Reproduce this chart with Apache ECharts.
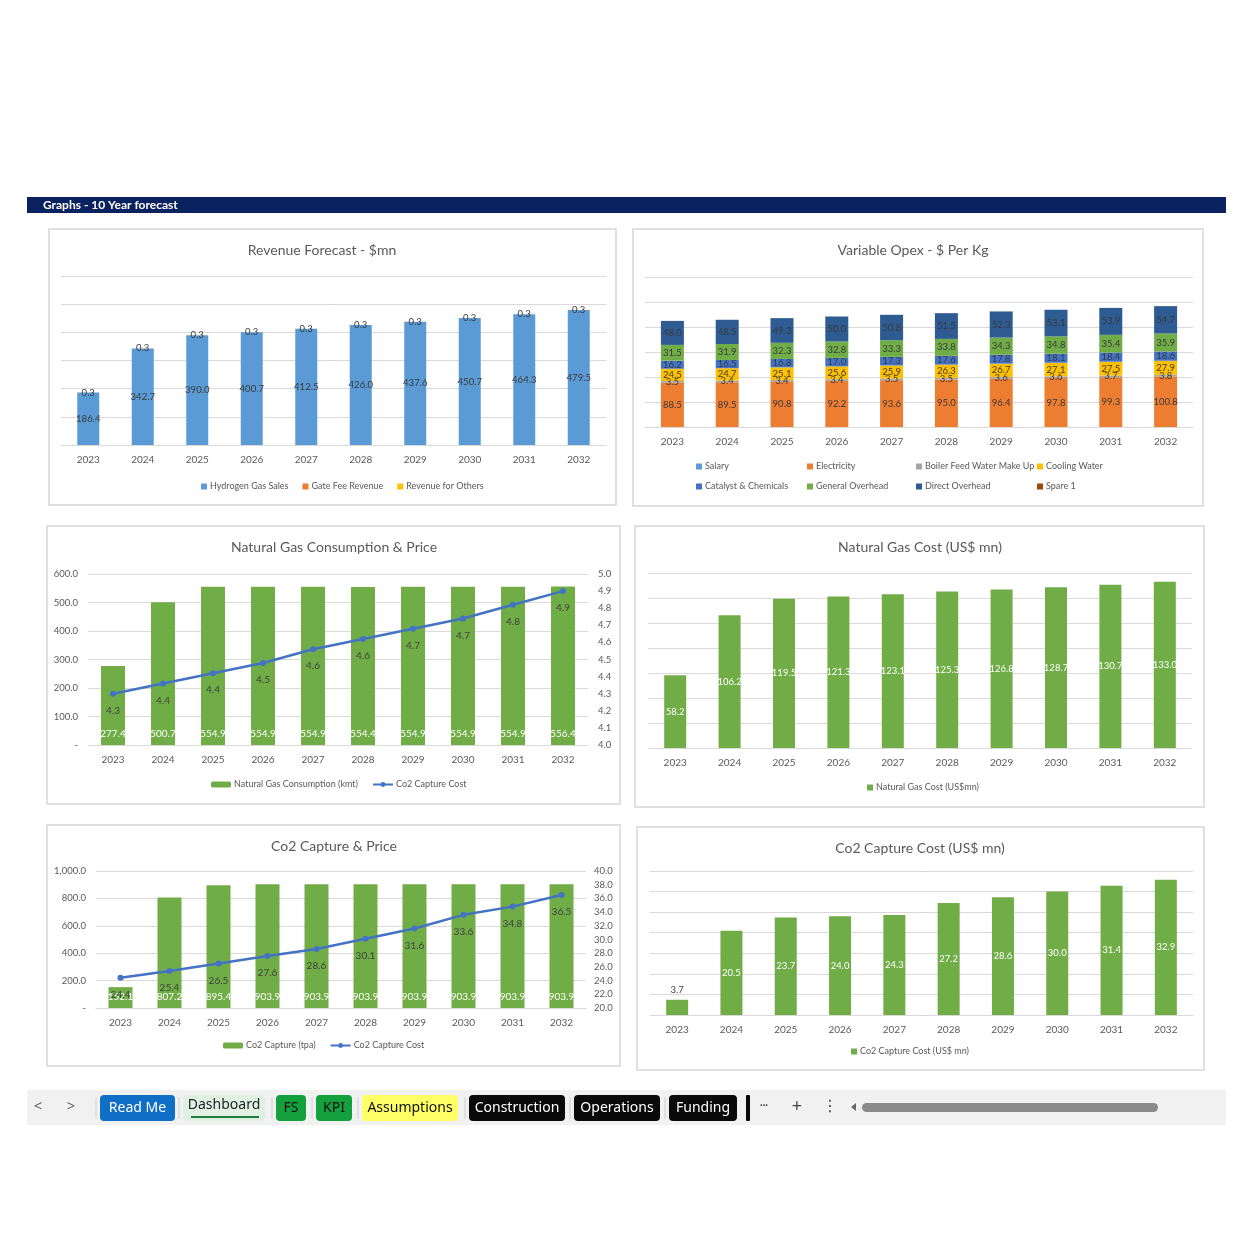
<!DOCTYPE html>
<html><head><meta charset="utf-8">
<script src="https://cdn.jsdelivr.net/npm/echarts@6/dist/echarts.min.js"></script>
<style>html,body{margin:0;padding:0;background:#fff}#c{width:1254px;height:1254px}</style>
</head><body><div id="c"></div>
<script>
// ---------- data ----------
const years = ['2023','2024','2025','2026','2027','2028','2029','2030','2031','2032'];

const hydrogenSales = [186.4, 342.7, 390.0, 400.7, 412.5, 426.0, 437.6, 450.7, 464.3, 479.5];
const gateFeeRevenue = [0, 0, 0, 0, 0, 0, 0, 0, 0, 0];
const revenueOthers = [0.3, 0.3, 0.3, 0.3, 0.3, 0.3, 0.3, 0.3, 0.3, 0.3];

const opexSalary = [0, 0, 0, 0, 0, 0, 0, 0, 0, 0];
const opexElectricity = [88.5, 89.5, 90.8, 92.2, 93.6, 95.0, 96.4, 97.8, 99.3, 100.8];
const opexBoiler = [3.5, 3.4, 3.4, 3.4, 3.5, 3.5, 3.6, 3.6, 3.7, 3.8];
const opexCooling = [24.5, 24.7, 25.1, 25.6, 25.9, 26.3, 26.7, 27.1, 27.5, 27.9];
const opexCatalyst = [16.2, 16.5, 16.8, 17.0, 17.3, 17.6, 17.8, 18.1, 18.4, 18.6];
const opexGeneral = [31.5, 31.9, 32.3, 32.8, 33.3, 33.8, 34.3, 34.8, 35.4, 35.9];
const opexDirect = [48.0, 48.5, 49.3, 50.0, 50.8, 51.5, 52.3, 53.1, 53.9, 54.7];
const opexSpare = [0, 0, 0, 0, 0, 0, 0, 0, 0, 0];

const ngConsumption = [277.4, 500.7, 554.9, 554.9, 554.9, 554.4, 554.9, 554.9, 554.9, 556.4];
const ngPrice = [4.30, 4.36, 4.42, 4.48, 4.56, 4.62, 4.68, 4.74, 4.82, 4.90];
const ngCost = [58.2, 106.2, 119.5, 121.3, 123.1, 125.3, 126.8, 128.7, 130.7, 133.0];

const co2Capture = [152.1, 807.2, 895.4, 903.9, 903.9, 903.9, 903.9, 903.9, 903.9, 903.9];
const co2Price = [24.4, 25.4, 26.5, 27.6, 28.6, 30.1, 31.6, 33.6, 34.8, 36.5];
const co2Cost = [3.7, 20.5, 23.7, 24.0, 24.3, 27.2, 28.6, 30.0, 31.4, 32.9];

const tabs = ['Read Me','Dashboard','FS','KPI','Assumptions','Construction','Operations','Funding'];

// ---------- helpers ----------
const FONT = 'Lato';
const TXT = '#595959';
const GRIDC = '#d9d9d9';
const fmt1 = v => (v === 0 || v === null || v === undefined) ? '' : Number(v).toFixed(1);
const fmtAxis = v => v === 0 ? '-' : Number(v).toLocaleString('en-US', {minimumFractionDigits:1, maximumFractionDigits:1});

function xAx(gi) {
  return {type:'category', gridIndex:gi, data:years, axisTick:{show:false},
    axisLine:{lineStyle:{color:GRIDC, width:1}},
    axisLabel:{color:TXT, fontSize:10, margin:10, fontFamily:FONT}};
}
function yHidden(gi, max, interval) {
  return {type:'value', gridIndex:gi, min:0, max, interval, axisLabel:{show:false},
    axisLine:{show:false}, axisTick:{show:false},
    splitLine:{lineStyle:{color:GRIDC, width:1}}};
}
function yShown(gi, min, max, interval, pos, formatter, margin, split) {
  return {type:'value', gridIndex:gi, min, max, interval, position:pos,
    axisLabel:{color:TXT, fontSize:9.5, margin, fontFamily:FONT, formatter},
    axisLine:{show:false}, axisTick:{show:false},
    splitLine:{show:split, lineStyle:{color:GRIDC, width:1}}};
}
function stackBar(name, data, color, xi, yi, stack, bw) {
  return {type:'bar', name, data, xAxisIndex:xi, yAxisIndex:yi, stack, barWidth:bw,
    itemStyle:{color}, emphasis:{disabled:true},
    label:{show:true, position:'inside', color:'#3a3a3a', fontSize:9.5, fontFamily:FONT,
      formatter:p => fmt1(p.value)}};
}
const legText = {fontSize:9, color:TXT, fontFamily:FONT, padding:[0,0,0,-2]};
function legend(left, top, data, extra) {
  return Object.assign({left, top, padding:0, data, itemWidth:6, itemHeight:6, itemGap:14,
    icon:'rect', textStyle:legText, selectedMode:false}, extra || {});
}

// ---------- graphic (frame, header, tabs) ----------
const g = [];
g.push({type:'rect', shape:{x:27, y:197, width:1199, height:16}, style:{fill:'#0b2260'}});
g.push({type:'text', x:43, y:205.5, style:{text:'Graphs - 10 Year forecast', fill:'#fff', font:'bold 12px Lato', textVerticalAlign:'middle'}});
const boxes = [[49,229,567,276],[633,229,570,277],[47,526,573,278],[635,526,569,281],[47,825,573,241],[637,827,567,243]];
boxes.forEach(b => g.push({type:'rect', shape:{x:b[0], y:b[1], width:b[2], height:b[3]}, style:{fill:'none', stroke:'#d6d6d6', lineWidth:1.5}}));
const titles = [['Revenue Forecast - $mn',322,250],['Variable Opex - $ Per Kg',913,250],['Natural Gas Consumption & Price',334,547],
  ['Natural Gas Cost (US$ mn)',920,547],['Co2 Capture & Price',334,846],['Co2 Capture Cost (US$ mn)',920,848]];
titles.forEach(t => g.push({type:'text', x:t[1], y:t[2], style:{text:t[0], fill:TXT, font:'14px Lato', textAlign:'center', textVerticalAlign:'middle'}}));

// tab bar
g.push({type:'rect', shape:{x:27, y:1090, width:1199, height:35}, style:{fill:'#f1f1f1'}});
g.push({type:'text', x:38, y:1107, style:{text:'<', fill:'#666', font:'15px "Noto Sans"', textAlign:'center', textVerticalAlign:'middle'}});
g.push({type:'text', x:71, y:1107, style:{text:'>', fill:'#666', font:'15px "Noto Sans"', textAlign:'center', textVerticalAlign:'middle'}});
const tabPos = [[100,75,'#0f6fc6','#fff'],[183,82,'#dff1e3','#222'],[276,30,'#14a03c','#111'],[316,36,'#14a03c','#111'],
  [362,96,'#ffff66','#111'],[469,96,'#0a0a0a','#fff'],[574,86,'#0a0a0a','#fff'],[669,68,'#0a0a0a','#fff']];
tabs.forEach((t,i) => {
  const p = tabPos[i];
  g.push({type:'rect', shape:{x:p[0], y:1095, width:p[1], height:26, r:4}, style:{fill:p[2]}});
  g.push({type:'text', x:p[0]+p[1]/2, y:i===1?1105:1108, style:{text:t, fill:p[3], font:'14px "Noto Sans"', textAlign:'center', textVerticalAlign:'middle'}});
  g.push({type:'line', shape:{x1:p[0]-4, y1:1097, x2:p[0]-4, y2:1119}, style:{stroke:'#d0d0d0', lineWidth:1}});
});
g.push({type:'line', shape:{x1:191, y1:1117, x2:259, y2:1117}, style:{stroke:'#1d7c3a', lineWidth:2}});
g.push({type:'rect', shape:{x:746, y:1095, width:4, height:26, r:1}, style:{fill:'#0a0a0a'}});
g.push({type:'text', x:764, y:1106, style:{text:'•••', fill:'#444', font:'7px "Noto Sans"', textAlign:'center', textVerticalAlign:'middle'}});
g.push({type:'text', x:797, y:1107, style:{text:'+', fill:'#444', font:'18px "Noto Sans"', textAlign:'center', textVerticalAlign:'middle'}});
g.push({type:'text', x:830, y:1107, style:{text:'⋮', fill:'#444', font:'16px "DejaVu Sans"', textAlign:'center', textVerticalAlign:'middle'}});
g.push({type:'polygon', shape:{points:[[851,1107],[856,1103],[856,1111]]}, style:{fill:'#666'}});
g.push({type:'rect', shape:{x:862, y:1103, width:296, height:9, r:4.5}, style:{fill:'#8a8a8a'}});

// ---------- option ----------
const option = {
  backgroundColor:'#ffffff',
  animation:false,
  textStyle:{fontFamily:FONT},
  graphic:{elements:g},
  grid:[
    {left:61, top:276, width:545, height:169},
    {left:645, top:277, width:548, height:150},
    {left:88, top:574, width:500, height:171},
    {left:648, top:573, width:544, height:175},
    {left:96, top:871, width:490, height:137},
    {left:650, top:871, width:543, height:144}
  ],
  xAxis:[xAx(0), xAx(1), xAx(2), xAx(3), xAx(4), xAx(5)],
  yAxis:[
    yHidden(0, 600, 100),
    yHidden(1, 300, 50),
    yShown(2, 0, 600, 100, 'left', fmtAxis, 10, true),
    yShown(2, 4.0, 5.0, 0.1, 'right', v => Number(v).toFixed(1), 10, false),
    yHidden(3, 140, 20),
    yShown(4, 0, 1000, 200, 'left', fmtAxis, 10, true),
    yShown(4, 20, 40, 2, 'right', v => Number(v).toFixed(1), 8, false),
    yHidden(5, 35, 5)
  ],
  legend:[
    legend(201, 482, ['Hydrogen Gas Sales','Gate Fee Revenue','Revenue for Others']),
    legend(696, 462, ['Salary','Catalyst & Chemicals'], {orient:'vertical', itemGap:11}),
    legend(807, 462, ['Electricity','General Overhead'], {orient:'vertical', itemGap:11}),
    legend(916, 462, ['Boiler Feed Water Make Up','Direct Overhead'], {orient:'vertical', itemGap:11}),
    legend(1037, 462, ['Cooling Water','Spare 1'], {orient:'vertical', itemGap:11}),
    legend(211, 780, ['Natural Gas Consumption (kmt)','Co2 Capture Cost'], {itemWidth:20, itemHeight:6, icon:undefined}),
    legend(867, 783, ['Natural Gas Cost (US$mn)']),
    legend(223, 1041, ['Co2 Capture (tpa)','Co2 Capture Cost'], {itemWidth:20, itemHeight:6, icon:undefined}),
    legend(851, 1047, ['Co2 Capture Cost (US$ mn)'])
  ],
  series:[
    stackBar('Hydrogen Gas Sales', hydrogenSales, '#5B9BD5', 0, 0, 'rev', 22),
    stackBar('Gate Fee Revenue', gateFeeRevenue, '#ED7D31', 0, 0, 'rev', 22),
    stackBar('Revenue for Others', revenueOthers, '#FFC000', 0, 0, 'rev', 22),

    stackBar('Salary', opexSalary, '#5B9BD5', 1, 1, 'opex', 23),
    stackBar('Electricity', opexElectricity, '#ED7D31', 1, 1, 'opex', 23),
    stackBar('Boiler Feed Water Make Up', opexBoiler, '#A5A5A5', 1, 1, 'opex', 23),
    stackBar('Cooling Water', opexCooling, '#FFC000', 1, 1, 'opex', 23),
    stackBar('Catalyst & Chemicals', opexCatalyst, '#4472C4', 1, 1, 'opex', 23),
    stackBar('General Overhead', opexGeneral, '#70AD47', 1, 1, 'opex', 23),
    stackBar('Direct Overhead', opexDirect, '#2D5B92', 1, 1, 'opex', 23),
    stackBar('Spare 1', opexSpare, '#9E480E', 1, 1, 'opex', 23),

    {type:'bar', name:'Natural Gas Consumption (kmt)', data:ngConsumption, xAxisIndex:2, yAxisIndex:2, barWidth:24,
      itemStyle:{color:'#70AD47'},
      label:{show:true, position:'insideBottom', distance:6, color:'#fff', fontSize:10, fontFamily:FONT, formatter:p => fmt1(p.value)}},
    {type:'line', name:'Co2 Capture Cost', data:ngPrice, xAxisIndex:2, yAxisIndex:3, z:5,
      symbol:'circle', symbolSize:6, itemStyle:{color:'#4472C4'}, lineStyle:{color:'#4472C4', width:2.5},
      label:{show:true, position:'bottom', distance:9, color:'#404040', fontSize:10, fontFamily:FONT, formatter:p => Number(p.value).toFixed(1)}},

    {type:'bar', name:'Natural Gas Cost (US$mn)', data:ngCost, xAxisIndex:3, yAxisIndex:4, barWidth:22,
      itemStyle:{color:'#70AD47'},
      label:{show:true, position:'inside', color:'#fff', fontSize:9.5, fontFamily:FONT, formatter:p => fmt1(p.value)}},

    {type:'bar', name:'Co2 Capture (tpa)', data:co2Capture, xAxisIndex:4, yAxisIndex:5, barWidth:24,
      itemStyle:{color:'#70AD47'},
      label:{show:true, position:'insideBottom', distance:6, color:'#fff', fontSize:10, fontFamily:FONT, formatter:p => fmt1(p.value)}},
    {type:'line', name:'Co2 Capture Cost', data:co2Price, xAxisIndex:4, yAxisIndex:6, z:5,
      symbol:'circle', symbolSize:6, itemStyle:{color:'#4472C4'}, lineStyle:{color:'#4472C4', width:2.5},
      label:{show:true, position:'bottom', distance:9, color:'#404040', fontSize:10, fontFamily:FONT, formatter:p => Number(p.value).toFixed(1)}},

    {type:'bar', name:'Co2 Capture Cost (US$ mn)', xAxisIndex:5, yAxisIndex:7, barWidth:22,
      data:co2Cost.map(v => v < 5 ? {value:v, label:{position:'top', color:'#404040'}} : v),
      itemStyle:{color:'#70AD47'},
      label:{show:true, position:'inside', color:'#fff', fontSize:9.5, fontFamily:FONT, formatter:p => fmt1(p.value)}}
  ]
};
const chart = echarts.init(document.getElementById('c'));
chart.setOption(option);
</script>
</body></html>
